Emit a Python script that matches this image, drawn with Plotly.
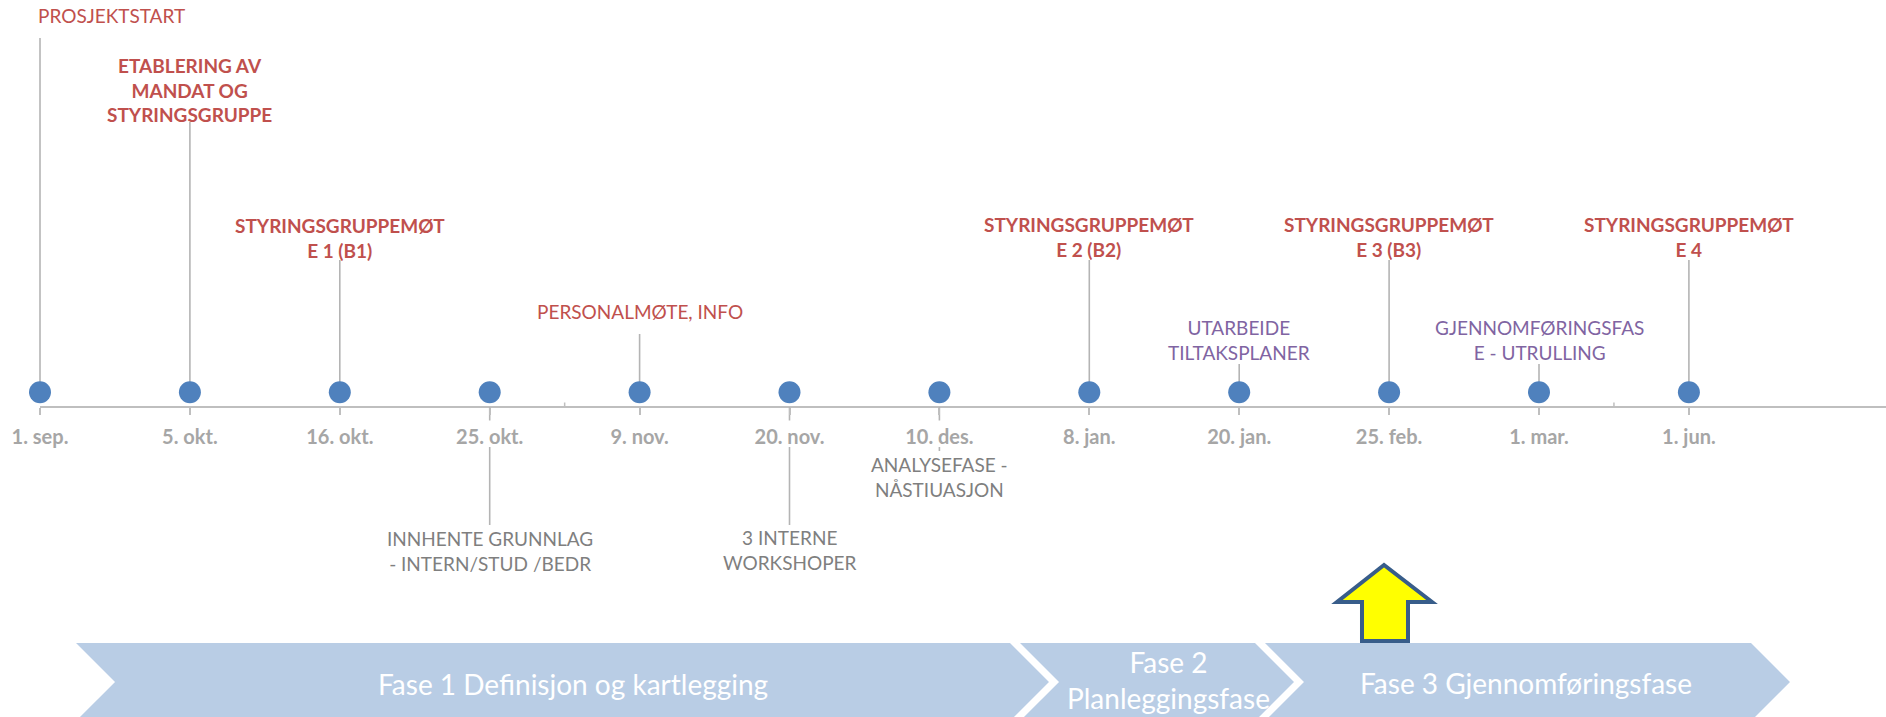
import plotly.graph_objects as go

# ---------------- data ----------------
dates = ["1. sep.", "5. okt.", "16. okt.", "25. okt.", "9. nov.", "20. nov.",
         "10. des.", "8. jan.", "20. jan.", "25. feb.", "1. mar.", "1. jun."]
events = ["PROSJEKTSTART",
          "ETABLERING AV<br>MANDAT OG<br>STYRINGSGRUPPE",
          "STYRINGSGRUPPEMØT<br>E 1 (B1)",
          "INNHENTE GRUNNLAG<br>- INTERN/STUD /BEDR",
          "PERSONALMØTE, INFO",
          "3 INTERNE<br>WORKSHOPER",
          "ANALYSEFASE -<br>NÅSTIUASJON",
          "STYRINGSGRUPPEMØT<br>E 2 (B2)",
          "UTARBEIDE<br>TILTAKSPLANER",
          "STYRINGSGRUPPEMØT<br>E 3 (B3)",
          "GJENNOMFØRINGSFAS<br>E - UTRULLING",
          "STYRINGSGRUPPEMØT<br>E 4"]
event_kind = ["milestone", "board", "board", "input", "milestone", "input",
              "input", "board", "plan", "board", "plan", "board"]
stem_height = [369, 285, 147, -118, 73, -118, -44, 147, 43, 147, 43, 147]
label_height = [392, 317, 169, -144, 96, -143, -70, 170, 67, 170, 67, 170]
phases = ["Fase 1 Definisjon og kartlegging", "Fase 2<br>Planleggingsfase",
          "Fase 3 Gjennomføringsfase"]

# ---------------- styling ----------------
W, H = 1886, 717
AXIS_PX = 407.0
X0_PX, STEP = 40.0, 149.9
FONT = "Lato"
DOT_LEVEL = 14.7
GAP_TOP, GAP_BOTTOM = -13.5, -40.0

kind_style = {
    "milestone": dict(color="#c0504d", bold=False),
    "board": dict(color="#c0504d", bold=True),
    "input": dict(color="#7f7f7f", bold=False),
    "plan": dict(color="#8064a2", bold=False),
}

n = len(dates)
xs = list(range(n))
x_range = [-X0_PX / STEP, (W - X0_PX) / STEP]
y_range = [AXIS_PX - H, AXIS_PX]


def px(x):
    return x / W


def py(y):
    return 1 - y / H


fig = go.Figure()

# stems
sx, sy = [], []
for i, h in enumerate(stem_height):
    if h > 0:
        sx += [i, i, None]
        sy += [DOT_LEVEL, h, None]
    else:
        sx += [i, i, None, i, i, None]
        sy += [0, GAP_TOP, None, GAP_BOTTOM, h, None]
fig.add_trace(go.Scatter(x=sx, y=sy, mode="lines",
                         line=dict(color="#b4b4b4", width=1.6),
                         hoverinfo="skip", showlegend=False))

# dots
fig.add_trace(go.Scatter(x=xs, y=[DOT_LEVEL] * n, mode="markers",
                         marker=dict(size=22, color="#4f81bd"),
                         cliponaxis=False, hovertext=dates, showlegend=False))

annotations = []
for i, (txt, kind, lh) in enumerate(zip(events, event_kind, label_height)):
    st = kind_style[kind]
    t = f"<b>{txt}</b>" if st["bold"] else txt
    ann = dict(x=i, y=lh, xref="x", yref="y", text=t, showarrow=False,
               font=dict(family=FONT, size=19, color=st["color"]),
               align="center", yanchor="middle", xanchor="center")
    if i == 0:
        ann.update(xanchor="left", xshift=-4)
    annotations.append(ann)

shapes = []
# axis line
shapes.append(dict(type="line", xref="x", yref="y", x0=0, x1=x_range[1],
                   y0=0, y1=0, line=dict(color="#bfbfbf", width=2.2),
                   layer="below"))
for mt in [3.5, 10.5]:
    shapes.append(dict(type="line", xref="x", yref="y", x0=mt, x1=mt,
                       y0=0, y1=4.5, line=dict(color="#bfbfbf", width=1.5),
                       layer="below"))

# phase chevrons
chev = [(76, 1010), (1020, 1255), (1265, 1751)]
top, bot, mid, depth = 643, 721, 682, 39
for (l, r) in chev:
    pts = [(l, top), (r, top), (r + depth, mid), (r, bot), (l, bot), (l + depth, mid)]
    path = "M " + " L ".join(f"{px(a):.5f},{py(b):.5f}" for a, b in pts) + " Z"
    shapes.append(dict(type="path", xref="paper", yref="paper", path=path,
                       fillcolor="#b9cde5", line=dict(color="#b9cde5", width=0)))

phase_pos = [(573, 684), (1168, 680), (1526, 683)]
for name, (cx, cy) in zip(phases, phase_pos):
    annotations.append(dict(x=px(cx), y=py(cy), xref="paper", yref="paper",
                            text=name, showarrow=False,
                            font=dict(family=FONT, size=28, color="white"),
                            xanchor="center", yanchor="middle", align="center"))

# yellow arrow
arrow = [(1384, 565), (1337, 602), (1362, 602), (1362, 641), (1408, 641),
         (1408, 602), (1432, 602)]
path = "M " + " L ".join(f"{px(a):.5f},{py(b):.5f}" for a, b in arrow) + " Z"
shapes.append(dict(type="path", xref="paper", yref="paper", path=path,
                   fillcolor="#ffff00", line=dict(color="#385d8a", width=4)))

fig.update_layout(
    width=W, height=H,
    margin=dict(l=0, r=0, t=0, b=0),
    paper_bgcolor="white", plot_bgcolor="white",
    showlegend=False,
    xaxis=dict(range=x_range, anchor="free", position=1 - AXIS_PX / H,
               tickvals=xs, ticktext=[f"<b>{d}</b>" for d in dates],
               ticks="outside", ticklen=7, tickwidth=2, tickcolor="#bfbfbf",
               showline=False, showgrid=False, zeroline=False,
               tickfont=dict(family=FONT, size=20, color="#a6a6a6"),
               ticklabelstandoff=5, fixedrange=True),
    yaxis=dict(range=y_range, visible=False, fixedrange=True),
    shapes=shapes, annotations=annotations,
)

fig.write_html("out.html",
               config={"displayModeBar": False},
               post_script="document.body.style.margin='0';"
                           "document.body.style.overflow='hidden';")
